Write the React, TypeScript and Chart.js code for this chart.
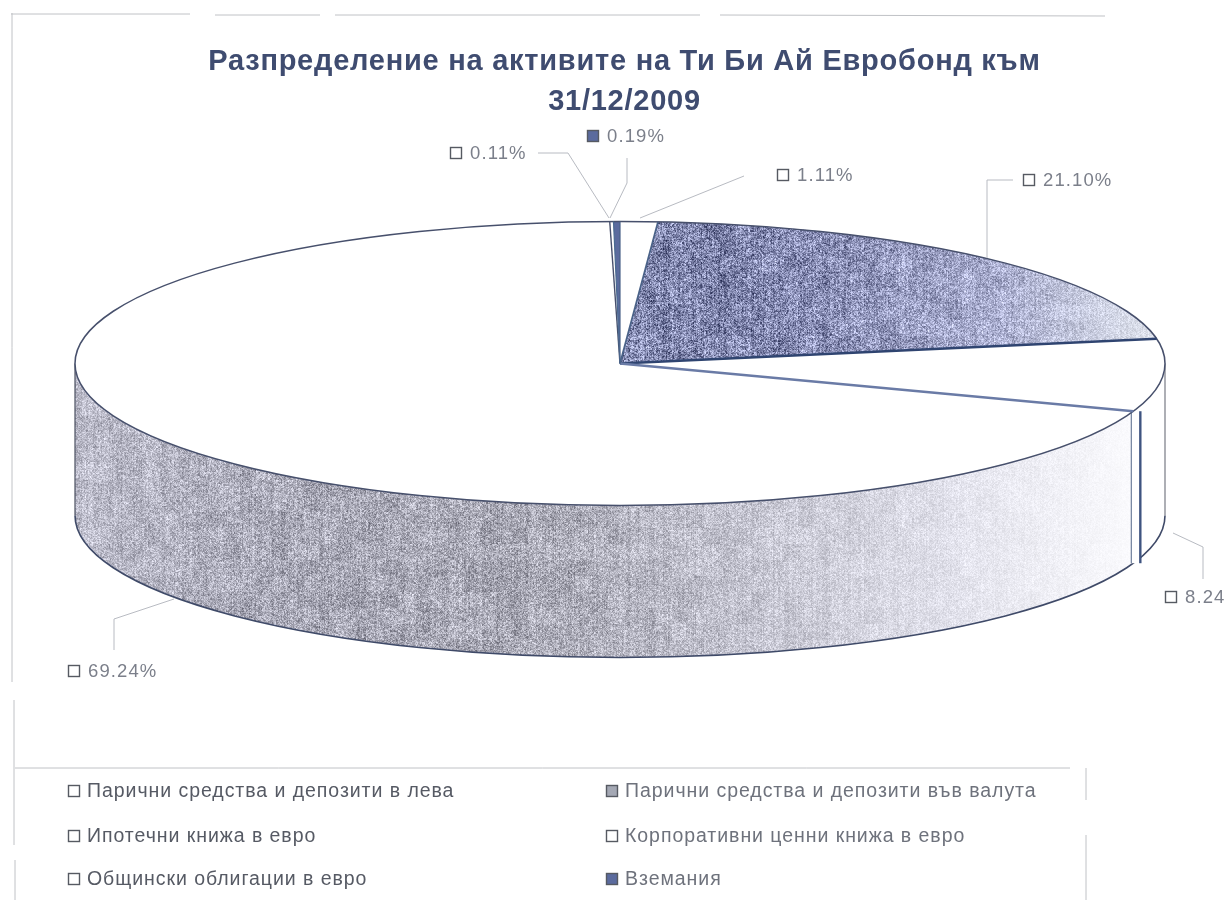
import React, { useEffect, useRef } from "react";
import { Chart, registerables } from "chart.js";

Chart.register(...registerables);

const FONT = '"Liberation Sans", Arial, sans-serif';
const WIDTH = 1226;
const HEIGHT = 901;

const categories = [
  "Парични средства и депозити в лева",
  "Парични средства и депозити във валута",
  "Ипотечни книжа в евро",
  "Корпоративни ценни книжа в евро",
  "Общински облигации в евро",
  "Вземания",
];
const shares = [1.11, 21.1, 8.24, 69.24, 0.11, 0.19];
const titleLines = ["Разпределение на активите на Ти Би Ай Евробонд към", "31/12/2009"];

const BLUE = "#5b6b9e";
const GREY_MARK = "#a4a8b4";
const markerFills = ["#ffffff", GREY_MARK, "#ffffff", "#ffffff", "#ffffff", BLUE];
const labelMarkerFills = ["#ffffff", "#ffffff", "#ffffff", "#ffffff", "#ffffff", BLUE];

// page layout of the annotations
const PIE = { radius: 545, squash: 142 / 545, depth: 152, shiftX: -4.5 };
const labelBoxes = [
  { x: 777, y: 175, line: [[744, 176], [640, 218]] },
  { x: 1023, y: 180, line: [[1013, 180], [987, 180], [987, 258]] },
  { x: 1165, y: 597, line: [[1173, 533], [1203, 547], [1203, 579]] },
  { x: 68, y: 671, line: [[174, 599], [114, 619], [114, 650]] },
  { x: 450, y: 153, line: [[538, 153], [568, 153], [609, 218]] },
  { x: 587, y: 136, line: [[627, 158], [627, 183], [610, 218]] },
];
const legendSlots = [
  { x: 68, y: 791 },
  { x: 606, y: 791 },
  { x: 68, y: 836 },
  { x: 606, y: 836 },
  { x: 68, y: 879 },
  { x: 606, y: 879 },
];
const frameLines = [
  [[11, 14], [190, 14]],
  [[215, 15], [320, 15]],
  [[335, 15], [700, 15]],
  [[720, 15], [1105, 16]],
  [[12, 13], [12, 682]],
  [[14, 700], [14, 845]],
  [[15, 860], [15, 900]],
  [[15, 768], [1070, 768]],
  [[1086, 768], [1086, 800]],
  [[1086, 835], [1086, 900]],
];

type Stop = [number, number, number, number];
const wallStops: Stop[] = [
  [75, 190, 190, 204],
  [250, 170, 170, 184],
  [550, 170, 170, 182],
  [750, 196, 196, 208],
  [950, 226, 226, 236],
  [1130, 250, 250, 253],
];
const topStops: Stop[] = [
  [640, 128, 134, 172],
  [800, 136, 141, 180],
  [1000, 170, 174, 207],
  [1150, 222, 226, 236],
];

function grain(x: number, y: number) {
  const s = Math.sin(x * 12.9898 + y * 78.233) * 43758.5453;
  return s - Math.floor(s);
}

function makeTexture(stops: Stop[]) {
  const c = document.createElement("canvas");
  c.width = WIDTH;
  c.height = HEIGHT;
  const g = c.getContext("2d")!;
  const img = g.createImageData(WIDTH, HEIGHT);
  for (let y = 0; y < HEIGHT; y++) {
    for (let x = 0; x < WIDTH; x++) {
      let i = 0;
      while (i < stops.length - 2 && x > stops[i + 1][0]) i++;
      const a = stops[i];
      const b = stops[i + 1];
      const t = Math.min(1, Math.max(0, (x - a[0]) / (b[0] - a[0])));
      const r = a[1] + (b[1] - a[1]) * t;
      const gg = a[2] + (b[2] - a[2]) * t;
      const bl = a[3] + (b[3] - a[3]) * t;
      const amp = ((255 - gg) / 255) * 210;
      const n =
        (grain(x, y) - 0.5) * amp +
        (grain(x >> 1, y >> 1) - 0.5) * amp * 0.6 +
        (grain(x, 7) - 0.5) * amp * 0.3 +
        (grain(x >> 4, (y >> 4) + 40) - 0.5) * amp * 0.3;
      const p = (y * WIDTH + x) * 4;
      img.data[p] = r + n;
      img.data[p + 1] = gg + n;
      img.data[p + 2] = bl + n;
      img.data[p + 3] = 255;
    }
  }
  g.putImageData(img, 0, 0);
  return c;
}

function marker(ctx: CanvasRenderingContext2D, x: number, y: number, fill: string) {
  ctx.fillStyle = fill;
  ctx.fillRect(x + 0.5, y - 5.5, 11, 11);
  ctx.lineWidth = 1.4;
  ctx.strokeStyle = "#565a62";
  ctx.strokeRect(x + 0.5, y - 5.5, 11, 11);
}

export default function App() {
  const ref = useRef<HTMLCanvasElement | null>(null);
  useEffect(() => {
    const canvas = ref.current!;
    const ctx0 = canvas.getContext("2d")!;
    const wallPattern = ctx0.createPattern(makeTexture(wallStops), "no-repeat")!;
    const topPattern = ctx0.createPattern(makeTexture(topStops), "no-repeat")!;
    const fills = ["#ffffff", topPattern, "#ffffff", "#ffffff", "#ffffff", BLUE];
    const wallFills = ["#ffffff", "#ffffff", "#ffffff", wallPattern, "#ffffff", "#ffffff"];

    const pie3d = {
      id: "pie3d",
      beforeDraw(chart: any) {
        const { ctx } = chart;
        ctx.save();
        ctx.fillStyle = "#ffffff";
        ctx.fillRect(0, 0, WIDTH, HEIGHT);
        ctx.restore();
        ctx.letterSpacing = "0.75px";
      },
      beforeDatasetsDraw(chart: any) {
        const { ctx } = chart;
        ctx.letterSpacing = "0px";
        const arcs = chart.getDatasetMeta(0).data;
        const cx = arcs[0].x + PIE.shiftX;
        const cy = arcs[0].y;
        const R = PIE.radius;
        const ry = R * PIE.squash;
        // wall
        arcs.forEach((arc: any, i: number) => {
          const a0 = Math.max(arc.startAngle, 0);
          const a1 = Math.min(arc.endAngle, Math.PI);
          if (a1 <= a0) return;
          ctx.save();
          ctx.beginPath();
          ctx.ellipse(cx, cy, R, ry, 0, a0, a1);
          ctx.ellipse(cx, cy + PIE.depth, R, ry, 0, a1, a0, true);
          ctx.closePath();
          ctx.fillStyle = wallFills[i];
          ctx.fill();
          ctx.restore();
        });
        // wall outline
        ctx.save();
        ctx.beginPath();
        ctx.ellipse(cx, cy + PIE.depth, R, ry, 0, 0, Math.PI);
        ctx.lineWidth = 1.6;
        ctx.strokeStyle = "#3f4a68";
        ctx.stroke();
        ctx.lineWidth = 1.2;
        ctx.strokeStyle = "#777a84";
        ctx.beginPath();
        ctx.moveTo(cx + R, cy);
        ctx.lineTo(cx + R, cy + PIE.depth);
        ctx.stroke();
        ctx.strokeStyle = "#4a4f60";
        ctx.beginPath();
        ctx.moveTo(cx - R, cy);
        ctx.lineTo(cx - R, cy + PIE.depth);
        ctx.stroke();
        // the seam between the two slices on the wall
        const seam = arcs[2].endAngle;
        const sx = cx + R * Math.cos(seam);
        const sy = cy + ry * Math.sin(seam);
        ctx.fillStyle = "#ffffff";
        ctx.fillRect(sx - 2, sy, 9, PIE.depth);
        ctx.strokeStyle = "#6f7f9c";
        ctx.lineWidth = 1.2;
        ctx.beginPath();
        ctx.moveTo(sx - 2, sy);
        ctx.lineTo(sx - 2, sy + PIE.depth);
        ctx.stroke();
        ctx.strokeStyle = "#3f5480";
        ctx.lineWidth = 2.4;
        ctx.beginPath();
        ctx.moveTo(sx + 7, sy);
        ctx.lineTo(sx + 7, sy + PIE.depth);
        ctx.stroke();
        ctx.restore();

        // squash the flat pie of the library into the ellipse of the top face
        const k = PIE.squash;
        topPattern.setTransform(
          new DOMMatrix().translate(0, cy).scale(1, 1 / k).translate(-PIE.shiftX, -cy)
        );
        ctx.save();
        ctx.translate(PIE.shiftX, cy);
        ctx.scale(1, k);
        ctx.translate(0, -cy);
      },
      afterDatasetsDraw(chart: any) {
        const { ctx } = chart;
        ctx.restore();
        const arcs = chart.getDatasetMeta(0).data;
        const cx = arcs[0].x + PIE.shiftX;
        const cy = arcs[0].y;
        const R = PIE.radius;
        const ry = R * PIE.squash;
        ctx.save();
        // rim of the top face
        ctx.beginPath();
        ctx.ellipse(cx, cy, R, ry, 0, 0, Math.PI * 2);
        ctx.lineWidth = 1.5;
        ctx.strokeStyle = "#47506c";
        ctx.stroke();
        // radial edges
        const seams = [
          { i: 0, color: "#4a6288", w: 1.8 },
          { i: 1, color: "#2f4470", w: 2.6 },
          { i: 2, color: "#6a7ba6", w: 2.4 },
          { i: 3, color: "#47506c", w: 1.4 },
          { i: 4, color: "#4a6a90", w: 1.2 },
          { i: 5, color: "#4a6288", w: 1.2 },
        ];
        seams.forEach(({ i, color, w }) => {
          const a = arcs[i].endAngle;
          ctx.beginPath();
          ctx.moveTo(cx, cy);
          ctx.lineTo(cx + R * Math.cos(a), cy + ry * Math.sin(a));
          ctx.lineWidth = w;
          ctx.strokeStyle = color;
          ctx.stroke();
        });

        // frame of the scanned page
        ctx.lineWidth = 1;
        ctx.strokeStyle = "#c0c2c6";
        frameLines.forEach((l) => {
          ctx.beginPath();
          ctx.moveTo(l[0][0], l[0][1]);
          ctx.lineTo(l[1][0], l[1][1]);
          ctx.stroke();
        });

        // data labels with leader lines
        ctx.textBaseline = "middle";
        ctx.textAlign = "left";
        shares.forEach((v, i) => {
          const b = labelBoxes[i];
          ctx.beginPath();
          b.line.forEach((p, j) => (j ? ctx.lineTo(p[0], p[1]) : ctx.moveTo(p[0], p[1])));
          ctx.lineWidth = 1;
          ctx.strokeStyle = "#b8bbc2";
          ctx.stroke();
          marker(ctx, b.x, b.y, labelMarkerFills[i]);
          ctx.font = `18.5px ${FONT}`;
          ctx.letterSpacing = "1.1px";
          ctx.fillStyle = "#7b7f8a";
          ctx.fillText(`${v.toFixed(2)}%`, b.x + 20, b.y + 0.5);
          ctx.letterSpacing = "0px";
        });

        // two-column legend
        categories.forEach((name, i) => {
          const s = legendSlots[i];
          marker(ctx, s.x, s.y, markerFills[i]);
          ctx.font = `19.5px ${FONT}`;
          ctx.letterSpacing = "0.95px";
          ctx.fillStyle = i % 2 ? "#6e727c" : "#565a64";
          ctx.fillText(name, s.x + 19, s.y + 1);
          ctx.letterSpacing = "0px";
        });
        ctx.restore();
      },
    };

    const chart = new Chart(canvas, {
      type: "pie",
      data: {
        labels: categories,
        datasets: [
          {
            data: shares,
            backgroundColor: fills,
            borderWidth: 0,
            clip: false,
            radius: PIE.radius,
          } as any,
        ],
      },
      options: {
        responsive: false,
        animation: false,
        devicePixelRatio: 1,
        radius: PIE.radius,
        layout: { padding: { left: 23, right: 0, top: 0, bottom: 296 } },
        plugins: {
          legend: { display: false },
          tooltip: { enabled: false },
          title: {
            display: true,
            text: titleLines,
            color: "#3f4c70",
            font: { family: FONT, size: 29, weight: "bold", lineHeight: 1.38 },
            padding: { top: 42, bottom: 0 },
          },
        },
      } as any,
      plugins: [pie3d],
    });
    return () => chart.destroy();
  }, []);
  return (
    <canvas
      ref={ref}
      width={WIDTH}
      height={HEIGHT}
      style={{ position: "absolute", left: 0, top: 0, display: "block" }}
    />
  );
}
